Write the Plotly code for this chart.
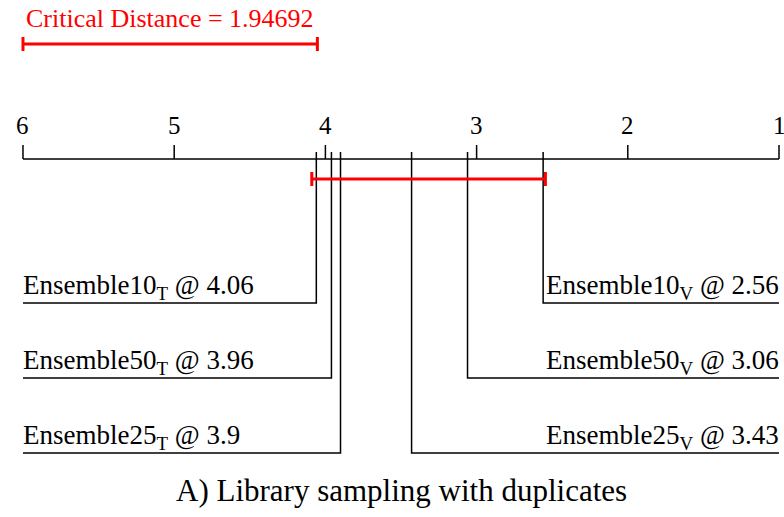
import plotly.graph_objects as go

# ---- data ----
method_names = ["Ensemble10", "Ensemble50", "Ensemble25", "Ensemble10", "Ensemble50", "Ensemble25"]
method_subs = ["T", "T", "T", "V", "V", "V"]
avg_ranks = [4.06, 3.96, 3.9, 2.56, 3.06, 3.43]
rank_labels = ["4.06", "3.96", "3.9", "2.56", "3.06", "3.43"]
sides = ["left", "left", "left", "right", "right", "right"]
rank_ticks = [6, 5, 4, 3, 2, 1]
critical_distance = 1.94692
clique = [4.06, 2.56]
title_text = "A) Library sampling with duplicates"

# ---- layout constants (pixel-ish y coordinates) ----
AXIS_Y = 159
TICK_TOP = 145
TICK_LABEL_Y = 125
RANK_LINE_TOP = 152
ROW_Y = [303, 378, 453]
CD_Y = 44
CLIQUE_Y = 179
FONT = "Liberation Serif"
BLACK = "#000000"
RED = "#ff0000"

lo, hi = max(rank_ticks), min(rank_ticks)
fig = go.Figure()

def seg(xs, ys, color=BLACK, width=1.5):
    fig.add_trace(go.Scatter(x=xs, y=ys, mode="lines", line=dict(color=color, width=width),
                             hoverinfo="skip", showlegend=False))

# axis line
seg([lo, hi], [AXIS_Y, AXIS_Y])
# ticks + tick labels
for t in rank_ticks:
    seg([t, t], [TICK_TOP, AXIS_Y])
    fig.add_annotation(x=t, y=TICK_LABEL_Y, text=str(t), showarrow=False,
                       font=dict(family=FONT, size=25, color=BLACK),
                       xanchor="center", yanchor="middle")

# method lines and labels
li = ri = 0
for name, sub, r, lab, side in zip(method_names, method_subs, avg_ranks, rank_labels, sides):
    if side == "left":
        y = ROW_Y[li]; li += 1
        seg([r, r, lo], [RANK_LINE_TOP, y, y])
        fig.add_annotation(x=lo, y=y - 16, text=f"{name}<sub>{sub}</sub> @ {lab}", showarrow=False,
                           font=dict(family=FONT, size=27, color=BLACK),
                           xanchor="left", yanchor="middle", xshift=-2)
    else:
        y = ROW_Y[ri]; ri += 1
        seg([r, r, hi], [RANK_LINE_TOP, y, y])
        fig.add_annotation(x=hi, y=y - 16, text=f"{name}<sub>{sub}</sub> @ {lab}", showarrow=False,
                           font=dict(family=FONT, size=27, color=BLACK),
                           xanchor="right", yanchor="middle", xshift=2)

# critical distance bar
seg([lo, lo - critical_distance], [CD_Y, CD_Y], color=RED, width=3)
for xv in [lo, lo - critical_distance]:
    seg([xv, xv], [CD_Y - 7, CD_Y + 7], color=RED, width=3)
fig.add_annotation(x=lo - critical_distance / 2, y=18, text=f"Critical Distance = {critical_distance}",
                   showarrow=False, font=dict(family=FONT, size=26, color=RED),
                   xanchor="center", yanchor="middle")

# clique bar
c_left, c_right = clique[0] + 0.03, clique[1] - 0.015
seg([c_left, c_right], [CLIQUE_Y, CLIQUE_Y], color=RED, width=3)
for xv in [c_left, c_right]:
    seg([xv, xv], [CLIQUE_Y - 7, CLIQUE_Y + 7], color=RED, width=3)

# title
fig.add_annotation(x=(lo + hi) / 2, y=490, text=title_text, showarrow=False,
                   font=dict(family=FONT, size=31, color=BLACK),
                   xanchor="center", yanchor="middle")

fig.update_layout(
    width=784, height=517,
    margin=dict(l=0, r=0, t=0, b=0),
    paper_bgcolor="white", plot_bgcolor="white",
    font=dict(family=FONT),
    xaxis=dict(range=[6.152, 0.967], visible=False, fixedrange=True),
    yaxis=dict(range=[517, 0], visible=False, fixedrange=True),
    showlegend=False,
)
fig.write_html("out.html", config={"displayModeBar": False},
               post_script="document.body.style.margin='0';document.body.style.overflow='hidden';")
